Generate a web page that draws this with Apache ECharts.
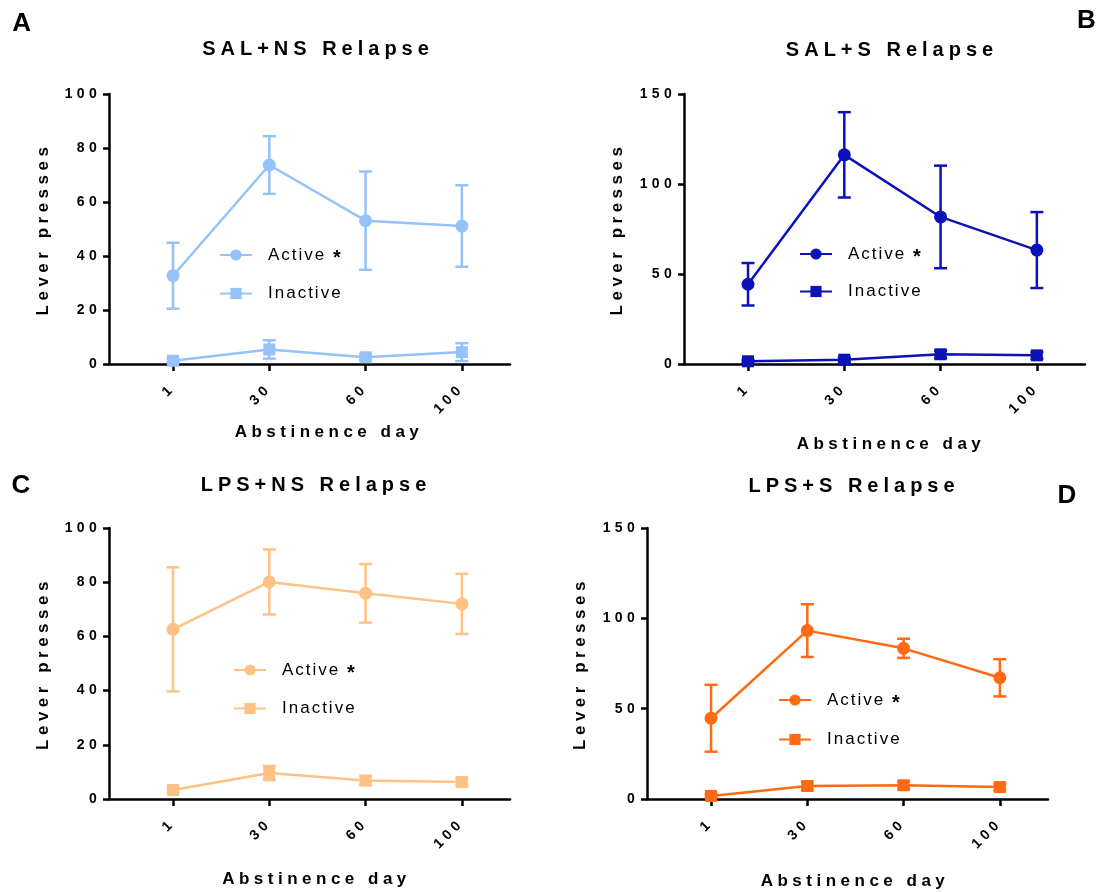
<!DOCTYPE html>
<html>
<head>
<meta charset="utf-8">
<script src="https://cdn.jsdelivr.net/npm/echarts@6/dist/echarts.min.js"></script>
<style>
  html, body { margin: 0; padding: 0; background: #fff; }
  #chart { width: 1104px; height: 892px; }
</style>
</head>
<body>
<div id="chart"></div>
<script>
// Abstinence days on the x axis (plotted at positions 1..4)
const days = ['1', '30', '60', '100'];

// SAL+NS: mean and SEM of lever presses
const salNsActiveMean = [32.7, 73.7, 53.1, 51.1];
const salNsActiveSem = [12.2, 10.7, 18.2, 15.1];
const salNsInactiveMean = [1.2, 5.4, 2.5, 4.4];
const salNsInactiveSem = [0.6, 3.4, 1.0, 3.3];

// SAL+S
const salSActiveMean = [44.3, 116.2, 81.7, 63.3];
const salSActiveSem = [11.8, 23.7, 28.5, 21.1];
const salSInactiveMean = [1.5, 2.4, 5.4, 4.8];
const salSInactiveSem = [0.8, 1.2, 2.0, 1.8];

// LPS+NS
const lpsNsActiveMean = [62.6, 80.1, 75.9, 72.0];
const lpsNsActiveSem = [22.9, 12.0, 10.8, 11.1];
const lpsNsInactiveMean = [3.3, 9.6, 6.8, 6.3];
const lpsNsInactiveSem = [0.8, 2.6, 1.5, 1.2];

// LPS+S
const lpsSActiveMean = [44.7, 93.2, 83.4, 67.1];
const lpsSActiveSem = [18.5, 14.6, 5.3, 10.3];
const lpsSInactiveMean = [1.7, 7.2, 7.6, 6.6];
const lpsSInactiveSem = [1.0, 2.2, 2.0, 1.8];

// Y-axis ranges per panel
const yMaxSmall = 100, yStepSmall = 20;
const yMaxLarge = 150, yStepLarge = 50;

const FONT = 'Arial, "Liberation Sans", Helvetica, sans-serif';

// Wide letter tracking, as in the printed figure.
function trackingFor(font) {
  const m = /(\d+(?:\.\d+)?)px/.exec(font);
  const size = m ? parseFloat(m[1]) : 12;
  const bold = /bold|[6-9]00/.test(font);
  if (size >= 24) return 0;
  if (!bold) return 2;
  if (size >= 19) return 5;
  if (size >= 16) return 4.5;
  return 4.3;
}
['fillText', 'strokeText', 'measureText'].forEach(function (fn) {
  const orig = CanvasRenderingContext2D.prototype[fn];
  CanvasRenderingContext2D.prototype[fn] = function () {
    this.letterSpacing = trackingFor(this.font) + 'px';
    return orig.apply(this, arguments);
  };
});

const panels = [
  { key: 'SAL+NS', title: 'SAL+NS Relapse', color: '#94C2F9',
    grid: { left: 109, top: 94, width: 401, height: 270 },
    titlePos: [318, 49], yMax: yMaxSmall, yStep: yStepSmall,
    yNameGap: 55, xNameGap: 58, xNamePad: [0, 0, 0, 39],
    legendPos: [219, 239], legendGap: 13,
    active: [salNsActiveMean, salNsActiveSem], inactive: [salNsInactiveMean, salNsInactiveSem] },
  { key: 'SAL+S', title: 'SAL+S Relapse', color: '#0A12B8',
    grid: { left: 684, top: 94, width: 401, height: 270 },
    titlePos: [892, 50], yMax: yMaxLarge, yStep: yStepLarge,
    yNameGap: 56, xNameGap: 70, xNamePad: [0, 0, 0, 13],
    legendPos: [799, 238], legendGap: 12,
    active: [salSActiveMean, salSActiveSem], inactive: [salSInactiveMean, salSInactiveSem] },
  { key: 'LPS+NS', title: 'LPS+NS Relapse', color: '#FFC285',
    grid: { left: 109, top: 528, width: 401, height: 271 },
    titlePos: [316, 485], yMax: yMaxSmall, yStep: yStepSmall,
    yNameGap: 55, xNameGap: 70, xNamePad: [0, 0, 0, 14],
    legendPos: [233, 654], legendGap: 13,
    active: [lpsNsActiveMean, lpsNsActiveSem], inactive: [lpsNsInactiveMean, lpsNsInactiveSem] },
  { key: 'LPS+S', title: 'LPS+S Relapse', color: '#FF6A12',
    grid: { left: 647, top: 528, width: 401, height: 271 },
    titlePos: [854, 486], yMax: yMaxLarge, yStep: yStepLarge,
    yNameGap: 56, xNameGap: 72, xNamePad: [0, 0, 0, 15],
    legendPos: [778, 684], legendGap: 14,
    active: [lpsSActiveMean, lpsSActiveSem], inactive: [lpsSInactiveMean, lpsSInactiveSem] }
];

const panelLetters = [
  { text: 'A', pos: [21.7, 24] },
  { text: 'B', pos: [1086.5, 21] },
  { text: 'C', pos: [21, 486] },
  { text: 'D', pos: [1067, 496] }
];

const legendLabels = {};

function points(mean) {
  return mean.map(function (v, i) { return [i + 1, v]; });
}
function errorRows(mean, sem) {
  return mean.map(function (v, i) { return [i + 1, Math.max(0, v - sem[i]), v + sem[i]]; });
}
function errorBarSeries(idx, color, rows) {
  return {
    type: 'custom',
    xAxisIndex: idx, yAxisIndex: idx,
    z: 1,
    silent: true,
    data: rows,
    encode: { x: 0, y: [1, 2] },
    renderItem: function (params, api) {
      const top = api.coord([api.value(0), api.value(2)]);
      const bot = api.coord([api.value(0), api.value(1)]);
      const half = 6.5;
      const style = { stroke: color, lineWidth: 2.5, fill: null };
      return {
        type: 'group',
        children: [
          { type: 'line', shape: { x1: top[0], y1: top[1], x2: bot[0], y2: bot[1] }, style: style },
          { type: 'line', shape: { x1: top[0] - half, y1: top[1], x2: top[0] + half, y2: top[1] }, style: style },
          { type: 'line', shape: { x1: bot[0] - half, y1: bot[1], x2: bot[0] + half, y2: bot[1] }, style: style }
        ]
      };
    }
  };
}

const option = {
  animation: false,
  backgroundColor: '#fff',
  textStyle: { fontFamily: FONT },
  title: [],
  grid: [],
  xAxis: [],
  yAxis: [],
  legend: [],
  series: []
};

panels.forEach(function (p, idx) {
  option.title.push({
    text: p.title, left: p.titlePos[0], top: p.titlePos[1],
    textAlign: 'center', textVerticalAlign: 'middle', padding: 0,
    textStyle: { fontFamily: FONT, fontSize: 20, fontWeight: 'bold', color: '#000' }
  });
  option.grid.push(Object.assign({ outerBoundsMode: 'none', containLabel: false }, p.grid));
  option.xAxis.push({
    type: 'value', gridIndex: idx, min: 0.335, max: 4.5,
    name: 'Abstinence day', nameLocation: 'middle', nameGap: p.xNameGap,
    nameTextStyle: { fontFamily: FONT, fontSize: 17, fontWeight: 'bold', color: '#000', padding: p.xNamePad },
    splitLine: { show: false },
    axisLine: { show: true, onZero: false, lineStyle: { color: '#000', width: 2.5 } },
    axisTick: { show: true, length: 7, customValues: [1, 2, 3, 4], lineStyle: { color: '#000', width: 2.5 } },
    axisLabel: {
      customValues: [1, 2, 3, 4], rotate: 45, margin: 22,
      fontFamily: FONT, fontSize: 14, fontWeight: 'bold', color: '#000',
      formatter: function (v) { return days[Math.round(v) - 1] || ''; }
    }
  });
  option.yAxis.push({
    type: 'value', gridIndex: idx, min: 0, max: p.yMax, interval: p.yStep,
    name: 'Lever presses', nameLocation: 'middle', nameRotate: 90, nameGap: p.yNameGap,
    nameTextStyle: { fontFamily: FONT, fontSize: 17, fontWeight: 'bold', color: '#000' },
    splitLine: { show: false },
    axisLine: { show: true, lineStyle: { color: '#000', width: 2.5 } },
    axisTick: { show: true, length: 6, lineStyle: { color: '#000', width: 2.5 } },
    axisLabel: { margin: 8, fontFamily: FONT, fontSize: 14, fontWeight: 'bold', color: '#000' }
  });

  const activeName = p.key + ' Active';
  const inactiveName = p.key + ' Inactive';
  legendLabels[activeName] = 'Active {star|*}';
  legendLabels[inactiveName] = 'Inactive';

  option.legend.push({
    orient: 'vertical', left: p.legendPos[0], top: p.legendPos[1], padding: 0,
    itemWidth: 32, itemHeight: 14, itemGap: p.legendGap,
    data: [activeName, inactiveName],
    selectedMode: false,
    formatter: function (name) { return legendLabels[name]; },
    textStyle: {
      fontFamily: FONT, fontSize: 17, color: '#000', lineHeight: 14, padding: [0, 0, 0, 11],
      rich: { star: { fontFamily: FONT, fontSize: 20, fontWeight: 'bold', color: '#000', lineHeight: 14, padding: [7, 0, 0, 0] } }
    }
  });

  p.lineStyle = { color: p.color, width: 2.5 };
  option.series.push(errorBarSeries(idx, p.color, errorRows(p.active[0], p.active[1])));
  option.series.push(errorBarSeries(idx, p.color, errorRows(p.inactive[0], p.inactive[1])));
  option.series.push({
    name: activeName, type: 'line', xAxisIndex: idx, yAxisIndex: idx, z: 3,
    data: points(p.active[0]), symbol: 'circle', symbolSize: 13,
    itemStyle: { color: p.color }, lineStyle: p.lineStyle, emphasis: { disabled: true }
  });
  option.series.push({
    name: inactiveName, type: 'line', xAxisIndex: idx, yAxisIndex: idx, z: 3,
    data: points(p.inactive[0]), symbol: 'rect', symbolSize: 12,
    itemStyle: { color: p.color }, lineStyle: p.lineStyle, emphasis: { disabled: true }
  });
});

panelLetters.forEach(function (l) {
  option.title.push({
    text: l.text, left: l.pos[0], top: l.pos[1],
    textAlign: 'center', textVerticalAlign: 'middle', padding: 0,
    textStyle: { fontFamily: FONT, fontSize: 26, fontWeight: 'bold', color: '#000' }
  });
});

const chart = echarts.init(document.getElementById('chart'), null, { renderer: 'canvas' });
chart.setOption(option);
</script>
</body>
</html>
